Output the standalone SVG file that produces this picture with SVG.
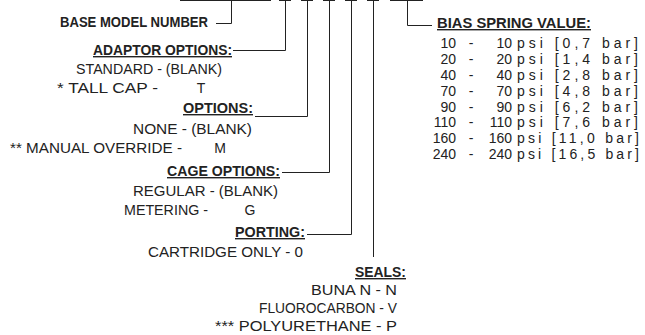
<svg xmlns="http://www.w3.org/2000/svg" width="645" height="335" viewBox="0 0 645 335">
<style>
text{font-family:"Liberation Sans","DejaVu Sans",sans-serif;font-size:14px;fill:#222}
.h{font-weight:bold;text-decoration:underline}
.b{font-weight:bold}
.e{text-anchor:end}
.m{text-anchor:middle}
.c line,.c polyline{stroke:#222;stroke-width:1;fill:none}
</style>
<rect width="645" height="335" fill="#fff"/>
<g class="c" id="connectors">
<line x1="180" y1="0.5" x2="271" y2="0.5"/>
<line x1="279" y1="0.5" x2="291" y2="0.5"/>
<line x1="301" y1="0.5" x2="313" y2="0.5"/>
<line x1="323" y1="0.5" x2="335" y2="0.5"/>
<line x1="345" y1="0.5" x2="357" y2="0.5"/>
<line x1="367" y1="0.5" x2="379" y2="0.5"/>
<line x1="390" y1="0.5" x2="423" y2="0.5"/>
<polyline points="231.5,0.5 231.5,23.5 216,23.5"/>
<polyline points="285.5,0.5 285.5,50.5 233,50.5"/>
<polyline points="307.5,0.5 307.5,116.5 255,116.5"/>
<polyline points="329.5,0.5 329.5,172.5 282,172.5"/>
<polyline points="351.5,0.5 351.5,234.5 307,234.5"/>
<polyline points="373.5,0.5 373.5,257"/>
<polyline points="407.5,0.5 407.5,25.5 432,25.5"/>
</g>
<g id="base">
<text class="b" x="60" y="27" textLength="148" lengthAdjust="spacingAndGlyphs">BASE MODEL NUMBER</text>
</g>
<g id="adaptor">
<text class="h" x="93" y="55" textLength="139" lengthAdjust="spacingAndGlyphs">ADAPTOR OPTIONS:</text>
<text x="76" y="74" textLength="146" lengthAdjust="spacingAndGlyphs">STANDARD - (BLANK)</text>
<text x="57" y="93" textLength="101" lengthAdjust="spacingAndGlyphs">* TALL CAP -</text>
<text x="201" y="93" class="m">T</text>
</g>
<g id="options">
<text class="h" x="183" y="113" textLength="70" lengthAdjust="spacingAndGlyphs">OPTIONS:</text>
<text x="133" y="134" textLength="119" lengthAdjust="spacingAndGlyphs">NONE - (BLANK)</text>
<text x="10" y="153" textLength="172" lengthAdjust="spacingAndGlyphs">** MANUAL OVERRIDE -</text>
<text x="220" y="153" class="m">M</text>
</g>
<g id="cage">
<text class="h" x="167" y="176" textLength="113" lengthAdjust="spacingAndGlyphs">CAGE OPTIONS:</text>
<text x="133" y="196" textLength="145" lengthAdjust="spacingAndGlyphs">REGULAR - (BLANK)</text>
<text x="124" y="215" textLength="84" lengthAdjust="spacingAndGlyphs">METERING -</text>
<text x="250" y="215" class="m">G</text>
</g>
<g id="porting">
<text class="h" x="235" y="237" textLength="70" lengthAdjust="spacingAndGlyphs">PORTING:</text>
<text x="148" y="257" textLength="155" lengthAdjust="spacingAndGlyphs">CARTRIDGE ONLY - 0</text>
</g>
<g id="seals">
<text class="h" x="355" y="277" textLength="51" lengthAdjust="spacingAndGlyphs">SEALS:</text>
<text x="311" y="295" textLength="86" lengthAdjust="spacingAndGlyphs">BUNA N - N</text>
<text x="259" y="313" textLength="138" lengthAdjust="spacingAndGlyphs">FLUOROCARBON - V</text>
<text x="215" y="331" textLength="182" lengthAdjust="spacingAndGlyphs">*** POLYURETHANE - P</text>
</g>
<g id="bias">
<text class="h" x="437" y="28" textLength="154" lengthAdjust="spacingAndGlyphs">BIAS SPRING VALUE:</text>
<g>
<text class="e" x="456" y="48">10</text><text class="m" x="471" y="48">-</text><text class="e" x="512" y="48">10</text><text x="517" y="48" textLength="121" lengthAdjust="spacing">psi [0,7 bar]</text>
<text class="e" x="456" y="64">20</text><text class="m" x="471" y="64">-</text><text class="e" x="512" y="64">20</text><text x="517" y="64" textLength="121" lengthAdjust="spacing">psi [1,4 bar]</text>
<text class="e" x="456" y="80">40</text><text class="m" x="471" y="80">-</text><text class="e" x="512" y="80">40</text><text x="517" y="80" textLength="121" lengthAdjust="spacing">psi [2,8 bar]</text>
<text class="e" x="456" y="96">70</text><text class="m" x="471" y="96">-</text><text class="e" x="512" y="96">70</text><text x="517" y="96" textLength="121" lengthAdjust="spacing">psi [4,8 bar]</text>
<text class="e" x="456" y="112">90</text><text class="m" x="471" y="112">-</text><text class="e" x="512" y="112">90</text><text x="517" y="112" textLength="121" lengthAdjust="spacing">psi [6,2 bar]</text>
<text class="e" x="456" y="127">110</text><text class="m" x="471" y="127">-</text><text class="e" x="512" y="127">110</text><text x="517" y="127" textLength="121" lengthAdjust="spacing">psi [7,6 bar]</text>
<text class="e" x="456" y="143">160</text><text class="m" x="471" y="143">-</text><text class="e" x="512" y="143">160</text><text x="517" y="143" textLength="122" lengthAdjust="spacing">psi [11,0 bar]</text>
<text class="e" x="456" y="159">240</text><text class="m" x="471" y="159">-</text><text class="e" x="512" y="159">240</text><text x="517" y="159" textLength="122" lengthAdjust="spacing">psi [16,5 bar]</text>
</g>
</g>
</svg>
